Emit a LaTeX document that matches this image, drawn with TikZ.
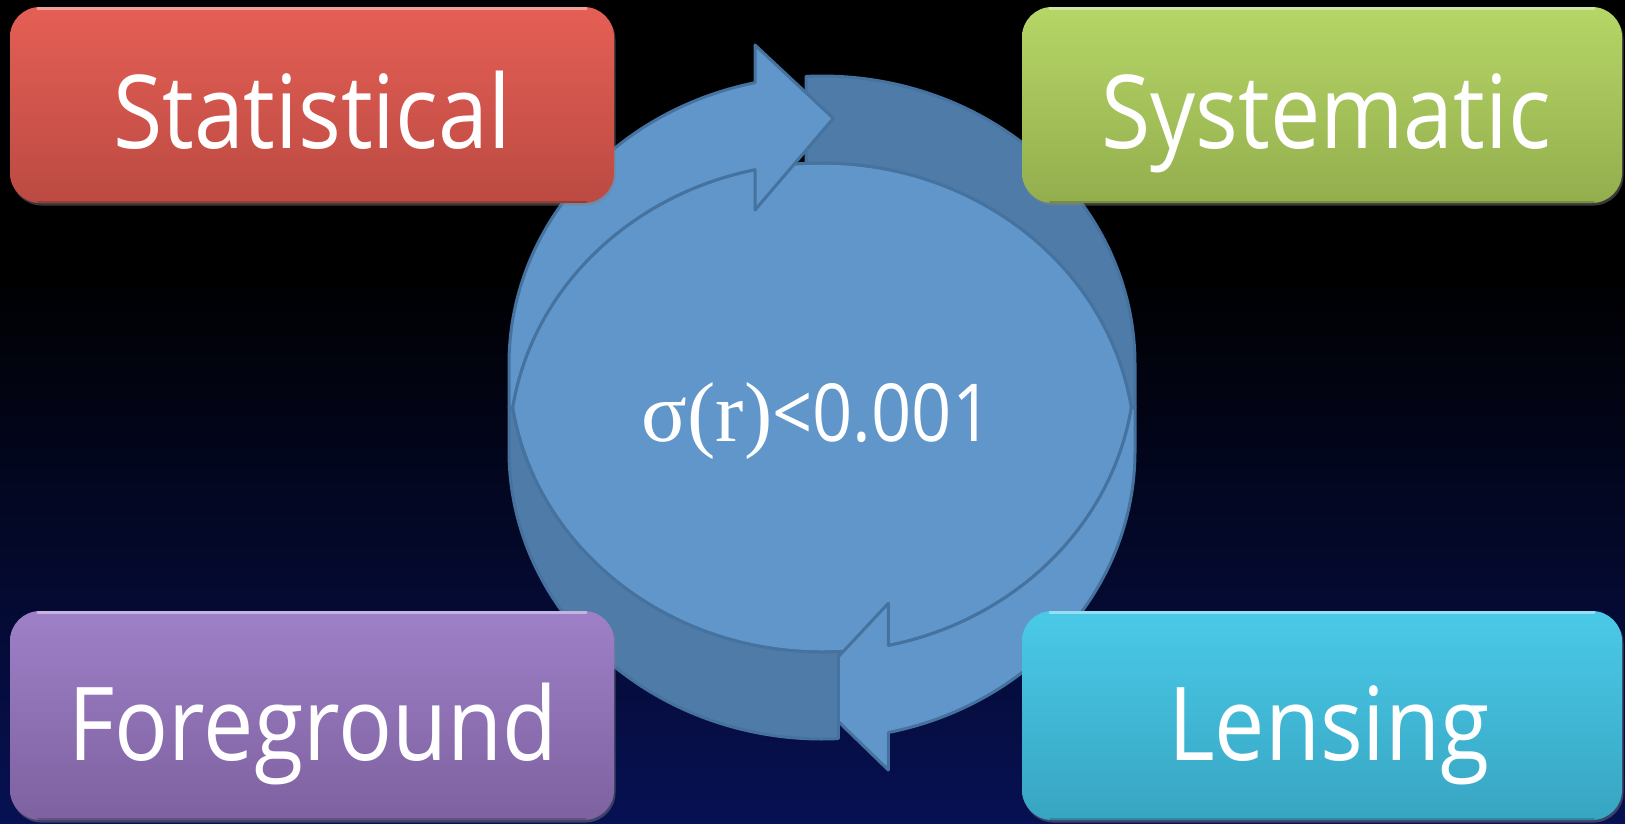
\documentclass[tikz,border=0pt]{standalone}
\usepackage{fontspec}
\usetikzlibrary{shadows}
\newfontfamily\gill[FakeStretch=0.88]{Open Sans}
\newfontfamily\serifgreek{Liberation Serif}
\definecolor{lightarrow}{HTML}{6096C9}
\definecolor{darkarrow}{HTML}{4F7BA8}
\definecolor{arrowline}{HTML}{45729F}
\definecolor{statT}{HTML}{E55F55}
\definecolor{statB}{HTML}{BB4A42}
\definecolor{sysT}{HTML}{B6D667}
\definecolor{sysB}{HTML}{93AE4D}
\definecolor{foreT}{HTML}{9E80C8}
\definecolor{foreB}{HTML}{7E619F}
\definecolor{lensT}{HTML}{4ACAE8}
\definecolor{lensB}{HTML}{37A5C2}
\definecolor{navy}{HTML}{071153}
\pgfdeclareverticalshading{bgshade}{100bp}{color(0bp)=(navy); color(25bp)=(navy); color(58.5bp)=(black); color(100bp)=(black)}
\tikzset{
  lightpart/.style={fill=lightarrow, draw=arrowline, line width=3pt, line join=round},
  darkpart/.style={fill=darkarrow, draw=arrowline, line width=3pt, line join=round},
  boxstyle/.style={rounded corners=30pt, inner sep=0pt, draw=none,
    drop shadow={shadow xshift=1.5pt, shadow yshift=-2.5pt, opacity=0.45}},
  boxtext/.style={anchor=base, text=white, inner sep=0pt, font=\gill\fontsize{102}{110}\selectfont},
  ell/.style={x radius=313, y radius=288}
}
\newcommand{\colbox}[7]{%
  \node[boxstyle, minimum width=#4pt, minimum height=#5pt, top color=#6, bottom color=#7] (#1) at (#2,#3) {};
  \draw[#6!45!white, line width=2.5pt, opacity=0.75, line cap=round]
    ([xshift=28pt,yshift=-1.5pt]#1.north west) -- ([xshift=-28pt,yshift=-1.5pt]#1.north east);
  \draw[#7!70!black, line width=2pt, opacity=0.6, line cap=round]
    ([xshift=28pt,yshift=1.5pt]#1.south west) -- ([xshift=-28pt,yshift=1.5pt]#1.south east);
}
\begin{document}
\begin{tikzpicture}[x=1pt,y=-1pt]
\useasboundingbox (0,0) rectangle (1625,823);
\shade[shading=bgshade] (0,0) rectangle (1625,823);

% centre ring: lens
\path[lightpart] (512.6,407.5) arc[start angle=188.69, end angle=351.31, ell]
  arc[start angle=8.69, end angle=171.31, ell] -- cycle;
% dark band (tail of lower arrow), upper right
\path[darkpart] (806,76.4) arc[start angle=267.07, end angle=360, ell]
  -- (1135,407.5) -- (1131.4,407.5) arc[start angle=351.31, end angle=267.07, ell] -- cycle;
% upper arrow
\path[lightpart] (755,82.7) -- (755,45) -- (833.3,118.3) -- (755,210) -- (755,169.7)
  arc[start angle=257.64, end angle=188.69, ell] -- (509,407.5) -- (509,364)
  arc[start angle=180, end angle=257.64, ell] -- cycle;
% lower arrow
\path[lightpart] (888.3,645.5) -- (888.3,603.3) -- (806.6,690.7) -- (888.3,770) -- (888.3,732.5)
  arc[start angle=77.77, end angle=0, ell] -- (1135,407.5) -- (1131.4,407.5)
  arc[start angle=8.69, end angle=77.77, ell] -- cycle;
% dark band (tail of upper arrow), lower left
\path[darkpart] (838.3,651.6) arc[start angle=87.01, end angle=171.31, ell]
  -- (509,407.5) -- (509,451) arc[start angle=180, end angle=87.01, ell] -- cycle;

\node[anchor=base, text=white, inner sep=0pt] (ratio) at (817,441.7)
  {{\serifgreek\fontsize{85}{90}\selectfont σ(r)}{\gill\fontsize{80}{90}\selectfont <0.001}};

% boxes (drawn over the ring)
\colbox{stat}{312}{105}{604}{196}{statT}{statB}
\colbox{sys}{1322}{105}{600}{196}{sysT}{sysB}
\colbox{fore}{312}{715.5}{604}{209}{foreT}{foreB}
\colbox{lens}{1322}{715.5}{600}{209}{lensT}{lensB}
\node[boxtext] (statlabel) at (312,148) {Statistical};
\node[boxtext] (syslabel) at (1326,148) {Systematic};
\node[boxtext] (forelabel) at (313,760) {Foreground};
\node[boxtext] (lenslabel) at (1329,760) {Lensing};
\end{tikzpicture}
\end{document}
